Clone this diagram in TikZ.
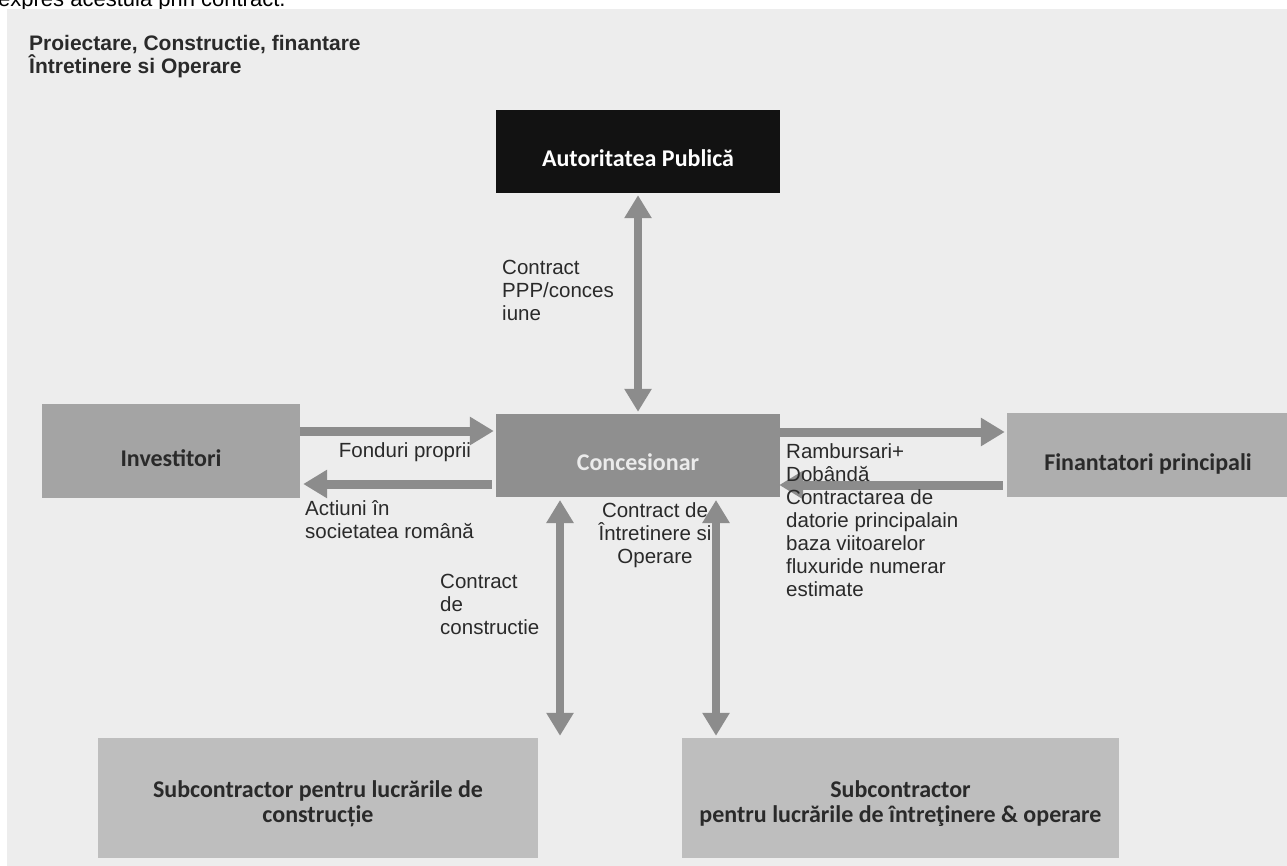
\documentclass[tikz,border=0pt]{standalone}
\usepackage{fontspec}
\setmainfont{Liberation Sans}
\newfontfamily\labfont{Liberation Sans}
\newfontfamily\boxfont{Carlito}
\usetikzlibrary{arrows.meta,calc}
\definecolor{panel}{HTML}{EDEDED}
\definecolor{arrowgray}{HTML}{8C8C8C}
\definecolor{congray}{HTML}{8F8F8F}
\definecolor{invgray}{HTML}{A4A4A4}
\definecolor{fingray}{HTML}{AEAEAE}
\definecolor{subgray}{HTML}{BEBEBE}
\definecolor{darktext}{HTML}{2A2A2A}
\tikzset{
  boxnode/.style={draw=none, inner sep=0pt, align=center,
    font=\boxfont\bfseries\fontsize{24}{25}\selectfont, text=darktext,
    text height=32pt, text depth=2pt},
  subnode/.style={boxnode, fill=subgray, minimum height=120pt,
    text height=50pt, text depth=2pt},
  lbl/.style={inner sep=0pt, align=left, text=darktext,
    font=\labfont\fontsize{20.5}{23}\selectfont},
  arr/.style={draw=arrowgray, line width=9pt,
    -{Triangle[width=27pt,length=24pt]}},
  darr/.style={draw=arrowgray, line width=8pt,
    {Triangle[width=26pt,length=23pt]}-{Triangle[width=26pt,length=23pt]}}
}
\begin{document}
\begin{tikzpicture}[x=1pt,y=-1pt]
\useasboundingbox (0,0) rectangle (1287,866);
\clip (0,0) rectangle (1287,866);
\fill[white] (0,0) rectangle (1287,866);
\node[anchor=base west, inner sep=0pt, font=\labfont\fontsize{22}{25}\selectfont, text=black] (top) at (-2,7) {expres acestuia prin contract.};
\fill[panel] (7,9) rectangle (1290,870);
% title
\node[anchor=north west, inner sep=0pt, align=left, text=darktext,
  font=\labfont\bfseries\fontsize{21}{23}\selectfont] (title) at (29,35)
  {Proiectare, Constructie, finantare\\Întretinere si Operare};
% boxes
\node[boxnode, fill=black!93, text=white, minimum width=284pt, minimum height=83pt] (aut) at (638,151.5) {Autoritatea Publică};
\node[boxnode, fill=congray, text=white!92!black, minimum width=284pt, minimum height=83pt] (con) at (638,455.5) {Concesionar};
\node[boxnode, fill=invgray, minimum width=258pt, minimum height=94pt] (inv) at (171,451) {Investitori};
\node[boxnode, fill=fingray, minimum width=282pt, minimum height=84pt] (fin) at (1148,455) {Finantatori principali};
\node[subnode, minimum width=440pt] (sub1) at (318,798) {Subcontractor pentru lucrările de\\construcție};
\node[subnode, minimum width=437pt] (sub2) at (900.5,798) {Subcontractor\\pentru lucrările de întreţinere \& operare};
% labels drawn below arrows
\node[lbl, anchor=north west] (lppp) at (502,260) {Contract\\PPP/conces\\iune};
\node[lbl, anchor=center] (lfond) at (405,452) {Fonduri proprii};
\node[lbl, anchor=north west] (lact) at (305,500) {Actiuni în\\societatea română};
\node[lbl, anchor=north, align=center] (lint) at (655,502) {Contract de\\Întretinere si\\Operare};
\node[lbl, anchor=north west] (lcons) at (440,574) {Contract\\de\\constructie};
% vertical arrows
\draw[darr, shorten <=2pt, shorten >=2pt] (aut.south) -- (con.north);
\coordinate (c1t) at (560,500);
\coordinate (c2t) at (716,500);
\draw[darr, shorten >=2pt] (c1t) -- (sub1.north -| c1t);
\draw[darr, shorten >=2pt] (c2t) -- (sub2.north -| c2t);
% horizontal arrows
\draw[arr] (inv.east |- 0,431) -- ($(con.west |- 0,431)+(-2,0)$);
\draw[arr] ($(con.west |- 0,484)+(-4,0)$) -- ($(inv.east |- 0,484)+(3,0)$);
\draw[arr] (con.east |- 0,432) -- ($(fin.west |- 0,432)+(-2,0)$);
\draw[arr] ($(fin.west |- 0,485)+(-4,0)$) -- ($(con.east |- 0,485)+(-1,0)$);
% label drawn over arrows
\node[lbl, anchor=north west] (lramb) at (786,443) {Rambursari+\\Dobândă\\Contractarea de\\datorie principalain\\baza viitoarelor\\fluxuride numerar\\estimate};
\end{tikzpicture}
\end{document}
